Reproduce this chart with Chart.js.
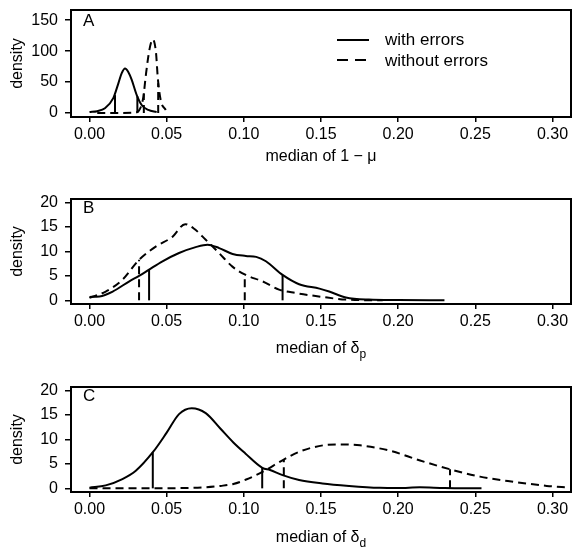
<!DOCTYPE html>
<html>
<head>
<meta charset="utf-8">
<script src="https://cdn.jsdelivr.net/npm/chart.js@4"></script>
<style>
  html, body { margin: 0; padding: 0; background: #fff; }
  #wrap { position: relative; width: 572px; height: 547px; overflow: hidden; background: #fff;
          font-family: "Liberation Sans", Arial, sans-serif; color: #000; }
  canvas { position: absolute; left: 0; }
  .lbl { position: absolute; font-size: 16px; line-height: 20px; white-space: nowrap; }
  .pl { font-size: 17px; }
  .xt { left: 71px; width: 500px; text-align: center; }
  .sub { font-size: 12px; position: relative; top: 5px; }
  .leg { position: absolute; left: 385px; font-size: 17px; line-height: 20px; white-space: nowrap; }
</style>
</head>
<body>
<div id="wrap">
  <canvas id="cA" width="572" height="175" style="top:0px"></canvas>
  <canvas id="cB" width="572" height="175" style="top:189px"></canvas>
  <canvas id="cC" width="572" height="175" style="top:372px"></canvas>

  <div class="lbl pl" style="left:83px; top:11px">A</div>
  <div class="lbl pl" style="left:83px; top:198px">B</div>
  <div class="lbl pl" style="left:83px; top:385.5px">C</div>

  <div class="lbl xt" style="top:145.5px">median of 1 − μ</div>
  <div class="lbl xt" style="top:337.5px">median of δ<span class="sub">p</span></div>
  <div class="lbl xt" style="top:526.5px">median of δ<span class="sub">d</span></div>

  <svg style="position:absolute; left:330px; top:30px" width="45" height="40">
    <line x1="7" y1="10" x2="39" y2="10" stroke="#000" stroke-width="2"/>
    <line x1="7" y1="30" x2="39" y2="30" stroke="#000" stroke-width="2" stroke-dasharray="11 7"/>
  </svg>
  <div class="leg" style="top:29.5px">with errors</div>
  <div class="leg" style="top:50.5px">without errors</div>
</div>

<script>
// ---------- tick labels ----------
const xTicks = [0, 0.05, 0.10, 0.15, 0.20, 0.25, 0.30];
const yTicksA = [0, 50, 100, 150];
const yTicksBC = [0, 5, 10, 15, 20];

// ---------- Panel A: median of 1 - mu ----------
const aWithX = [0, 0.005, 0.01, 0.0154, 0.0187, 0.0208, 0.023, 0.0252, 0.0273, 0.0306, 0.0338, 0.0381, 0.0435];
const aWithY = [1.5, 3, 7.6, 24, 48, 64, 72, 66, 54, 29, 13, 5, 1.5];
const aWithoutX = [0.005, 0.02, 0.029, 0.032, 0.0349, 0.0364, 0.0388, 0.041, 0.0431, 0.0442, 0.0461, 0.0494];
const aWithoutY = [0, 0, 0.5, 4, 26, 59, 102, 119, 97, 58, 21, 5];
const aWithCI = [0.0165, 0.031];
const aWithCITop = [29, 27];
const aWithoutCI = [0.0352, 0.0445];
const aWithoutCITop = [32, 48];

// ---------- Panel B: median of delta_p ----------
const bWithX = [0, 0.0065, 0.015, 0.0258, 0.0321, 0.0386, 0.0473, 0.058, 0.0688, 0.0765, 0.084, 0.0927, 0.1013, 0.108, 0.1143, 0.1251, 0.1358, 0.149, 0.1553, 0.1661, 0.181, 0.2, 0.23];
const bWithY = [0.7, 0.8, 1.8, 3.9, 5.0, 6.3, 8.0, 9.7, 10.9, 11.4, 10.7, 9.5, 9.1, 8.9, 8.0, 5.2, 3.3, 2.4, 1.8, 0.6, 0.15, 0.05, 0];
const bWithoutX = [0, 0.0105, 0.0213, 0.0321, 0.0429, 0.0537, 0.062, 0.068, 0.0753, 0.0839, 0.0926, 0.1012, 0.112, 0.1228, 0.1336, 0.1509, 0.166, 0.19];
const bWithoutY = [0.5, 1.8, 4.2, 8.3, 11, 13, 15.6, 14.6, 12.4, 9.7, 6.9, 5.2, 3.9, 2.2, 1.5, 0.7, 0.15, 0];
const bWithCI = [0.0386, 0.1251];
const bWithCITop = [6.3, 5.2];
const bWithoutCI = [0.0321, 0.1006];
const bWithoutCITop = [8.3, 5.3];

// ---------- Panel C: median of delta_d ----------
const cWithX = [0, 0.0105, 0.0213, 0.03, 0.0413, 0.05, 0.058, 0.0662, 0.0753, 0.0846, 0.0932, 0.1008, 0.112, 0.117, 0.1251, 0.1358, 0.1509, 0.1682, 0.188, 0.2, 0.214, 0.23, 0.254];
const cWithY = [0.13, 0.6, 1.9, 3.6, 7.5, 11.4, 15.2, 16.4, 15.4, 12.3, 9.4, 7.2, 4.2, 3.75, 2.7, 1.7, 1.0, 0.5, 0.1, 0.05, 0.2, 0.05, 0];
const cWithoutX = [0, 0.03, 0.06, 0.075, 0.085, 0.0932, 0.1015, 0.1123, 0.1253, 0.136, 0.1512, 0.162, 0.1753, 0.1947, 0.2142, 0.2336, 0.253, 0.2745, 0.2963, 0.311];
const cWithoutY = [0, 0, 0.05, 0.2, 0.5, 0.9, 1.8, 3.4, 5.8, 7.5, 8.8, 9.0, 8.8, 7.7, 5.7, 3.9, 2.4, 1.35, 0.5, 0.15];
const cWithCI = [0.041, 0.1119];
const cWithCITop = [7.4, 4.2];
const cWithoutCI = [0.1259, 0.2336];
const cWithoutCITop = [5.8, 3.9];

const FONT = "'Liberation Sans', Arial, sans-serif";
const DASH = [8, 5];

const boxPlugin = {
  id: 'box',
  afterDraw(chart) {
    const { ctx, chartArea: a } = chart;
    ctx.save();
    ctx.strokeStyle = '#000';
    ctx.lineWidth = 2;
    ctx.setLineDash([]);
    ctx.strokeRect(a.left, a.top, a.right - a.left, a.bottom - a.top);
    ctx.restore();
  }
};

function pts(xs, ys) { return xs.map((x, i) => ({ x: x, y: ys[i] })); }

function curve(xs, ys, dashed) {
  return {
    data: pts(xs, ys), showLine: true, borderColor: '#000', borderWidth: 2,
    borderDash: dashed ? DASH : [], pointRadius: 0, cubicInterpolationMode: 'monotone', fill: false
  };
}
function vlines(xs, tops, dashed) {
  return xs.map((x, i) => ({
    data: [{ x: x, y: 0 }, { x: x, y: tops[i] }], showLine: true, borderColor: '#000', borderWidth: 2,
    borderDash: dashed ? DASH : [], pointRadius: 0, tension: 0, fill: false
  }));
}

function makeChart(id, padTop, xHeight, yMin, yMax, yTicks, sets) {
  const datasets = [
    curve(sets.wx, sets.wy, false),
    curve(sets.ox, sets.oy, true),
    ...vlines(sets.wci, sets.wtop, false),
    ...vlines(sets.oci, sets.otop, true)
  ];
  return new Chart(document.getElementById(id), {
    type: 'scatter',
    data: { datasets: datasets },
    plugins: [boxPlugin],
    options: {
      responsive: false, animation: false, devicePixelRatio: 1,
      layout: { padding: { top: padTop, right: 1, left: 0, bottom: 0 } },
      plugins: { legend: { display: false }, tooltip: { enabled: false } },
      scales: {
        x: {
          type: 'linear', min: -0.012, max: 0.312,
          border: { display: false },
          grid: { display: true, drawOnChartArea: false, drawTicks: true, tickLength: 5, color: '#000', lineWidth: 1.5 },
          afterBuildTicks: s => { s.ticks = xTicks.map(v => ({ value: v })); },
          afterFit: s => { s.height = xHeight; s.paddingLeft = 0; s.paddingRight = 0; },
          ticks: { autoSkip: false, maxRotation: 0, padding: 3, color: '#000',
                   font: { family: FONT, size: 16 }, callback: v => Number(v).toFixed(2) }
        },
        y: {
          type: 'linear', min: yMin, max: yMax,
          border: { display: false },
          grid: { display: true, drawOnChartArea: false, drawTicks: true, tickLength: 6, color: '#000', lineWidth: 1.5 },
          afterBuildTicks: s => { s.ticks = yTicks.map(v => ({ value: v })); },
          afterFit: s => { s.width = 71; s.paddingTop = 0; s.paddingBottom = 0; },
          title: { display: true, text: 'density', color: '#000', font: { family: FONT, size: 16 }, padding: { top: 8, bottom: 0 } },
          ticks: { autoSkip: false, padding: 7, color: '#000', font: { family: FONT, size: 16 },
                   callback: v => String(v) }
        }
      }
    }
  });
}

makeChart('cA', 10, 58, -6.4, 166.4, yTicksA,
  { wx: aWithX, wy: aWithY, ox: aWithoutX, oy: aWithoutY, wci: aWithCI, wtop: aWithCITop, oci: aWithoutCI, otop: aWithoutCITop });
makeChart('cB', 10, 60, -0.75, 20.75, yTicksBC,
  { wx: bWithX, wy: bWithY, ox: bWithoutX, oy: bWithoutY, wci: bWithCI, wtop: bWithCITop, oci: bWithoutCI, otop: bWithoutCITop });
makeChart('cC', 15, 55, -0.75, 20.75, yTicksBC,
  { wx: cWithX, wy: cWithY, ox: cWithoutX, oy: cWithoutY, wci: cWithCI, wtop: cWithCITop, oci: cWithoutCI, otop: cWithoutCITop });
</script>
</body>
</html>
